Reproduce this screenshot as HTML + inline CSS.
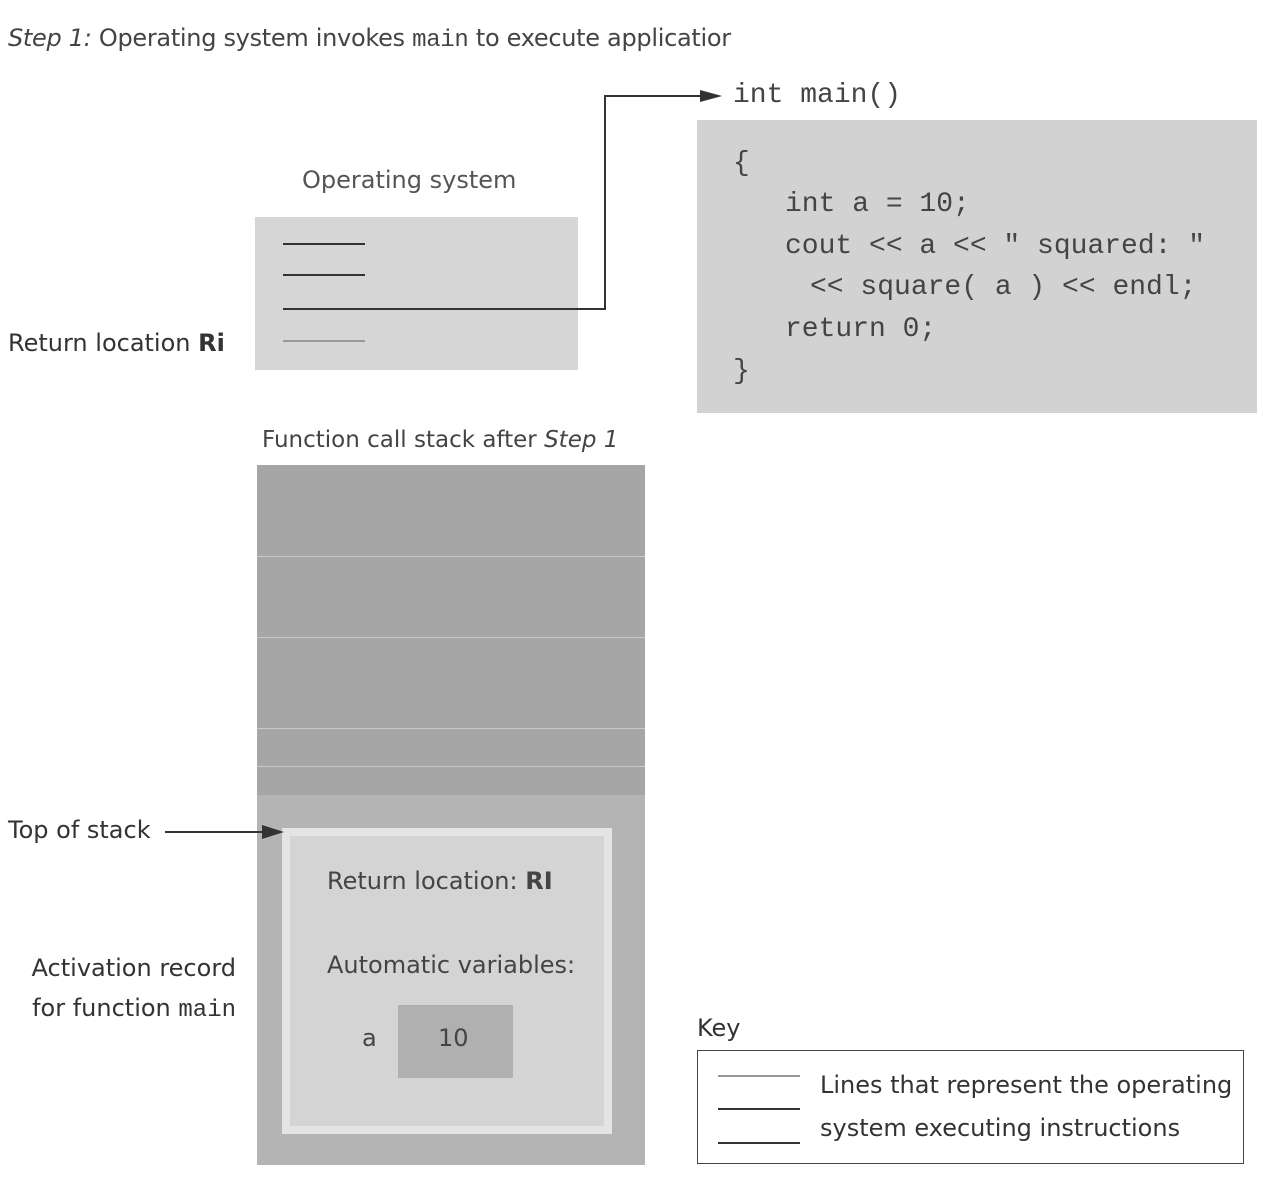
<!DOCTYPE html>
<html><head><meta charset="utf-8"><style>
body{margin:0;width:1271px;height:1189px;background:#fff;position:relative;overflow:hidden;font-family:"DejaVu Sans","Liberation Sans",sans-serif;color:#333}
.a{position:absolute;white-space:nowrap}
.mono{font-family:"Liberation Mono","DejaVu Sans Mono",monospace}
.ln{position:absolute;height:2px;background:#333}
.c{position:absolute;white-space:pre;font-family:"Liberation Mono","DejaVu Sans Mono",monospace;font-size:28px;color:#444}
</style></head><body>
<div class="a" style="left:8px;top:24px;font-size:24px;color:#444;letter-spacing:-0.3px"><i>Step 1:</i> Operating system invokes <span class="mono">main</span> to execute applicatior</div>

<div class="a" style="left:255px;top:217px;width:323px;height:153px;background:#d6d6d6"></div>
<div class="a" style="left:302px;top:166px;font-size:24px;color:#555">Operating system</div>
<div class="ln" style="left:283px;top:243px;width:82px"></div>
<div class="ln" style="left:283px;top:274px;width:82px"></div>
<div class="ln" style="left:283px;top:308px;width:322px"></div>
<div class="ln" style="left:283px;top:340px;width:82px;background:#999"></div>
<div class="ln" style="left:604px;top:96px;width:2px;height:214px"></div>
<div class="ln" style="left:604px;top:95px;width:100px"></div>
<svg class="a" style="left:700px;top:89px" width="24" height="14"><polygon points="0,1 22,7 0,13" fill="#333"/></svg>
<div class="a" style="left:8px;top:329px;font-size:24px;color:#333">Return location <b>Ri</b></div>

<div class="c" style="left:733px;top:80px">int main()</div>
<div class="a" style="left:697px;top:120px;width:560px;height:293px;background:#d2d2d2"></div>
<div class="c" style="left:733px;top:148px">{</div>
<div class="c" style="left:785px;top:189px">int a = 10;</div>
<div class="c" style="left:785px;top:231px">cout &lt;&lt; a &lt;&lt; " squared: "</div>
<div class="c" style="left:810px;top:272px">&lt;&lt; square( a ) &lt;&lt; endl;</div>
<div class="c" style="left:785px;top:314px">return 0;</div>
<div class="c" style="left:733px;top:356px">}</div>

<div class="a" style="left:262px;top:427px;font-size:23px;color:#444">Function call stack after <i>Step 1</i></div>
<div class="a" style="left:257px;top:465px;width:388px;height:700px;background:#b4b4b4"></div>
<div class="a" style="left:257px;top:465px;width:388px;height:330px;background:#a6a6a6"></div>
<div class="a" style="left:257px;top:556px;width:388px;height:1px;background:#c8c8c8"></div>
<div class="a" style="left:257px;top:637px;width:388px;height:1px;background:#c8c8c8"></div>
<div class="a" style="left:257px;top:728px;width:388px;height:1px;background:#c8c8c8"></div>
<div class="a" style="left:257px;top:766px;width:388px;height:1px;background:#c8c8c8"></div>
<div class="a" style="left:282px;top:828px;width:330px;height:306px;background:#e4e4e4"></div>
<div class="a" style="left:290px;top:836px;width:314px;height:290px;background:#d4d4d4"></div>
<div class="a" style="left:327px;top:867px;font-size:24px;color:#444">Return location: <b>RI</b></div>
<div class="a" style="left:327px;top:951px;font-size:24px;color:#444">Automatic variables:</div>
<div class="a" style="left:362px;top:1024px;font-size:24px;color:#444">a</div>
<div class="a" style="left:398px;top:1005px;width:115px;height:73px;background:#b0b0b0"></div>
<div class="a" style="left:438px;top:1024px;font-size:24px;color:#444">10</div>

<div class="a" style="left:8px;top:816px;font-size:24px;color:#333">Top of stack</div>
<div class="ln" style="left:165px;top:831px;width:100px"></div>
<svg class="a" style="left:262px;top:824px" width="24" height="16"><polygon points="0,1 22,8 0,15" fill="#333"/></svg>
<div class="a" style="left:0;width:236px;top:948px;font-size:24px;color:#333;text-align:right;line-height:40px">Activation record<br>for function <span class="mono">main</span></div>

<div class="a" style="left:697px;top:1014px;font-size:24px;color:#333">Key</div>
<div class="a" style="left:697px;top:1050px;width:547px;height:114px;border:1px solid #444;box-sizing:border-box"></div>
<div class="ln" style="left:718px;top:1075px;width:82px;background:#999"></div>
<div class="ln" style="left:718px;top:1108px;width:82px"></div>
<div class="ln" style="left:718px;top:1142px;width:82px"></div>
<div class="a" style="left:820px;top:1071px;font-size:24px;color:#333">Lines that represent the operating</div>
<div class="a" style="left:820px;top:1114px;font-size:24px;color:#333">system executing instructions</div>
</body></html>
